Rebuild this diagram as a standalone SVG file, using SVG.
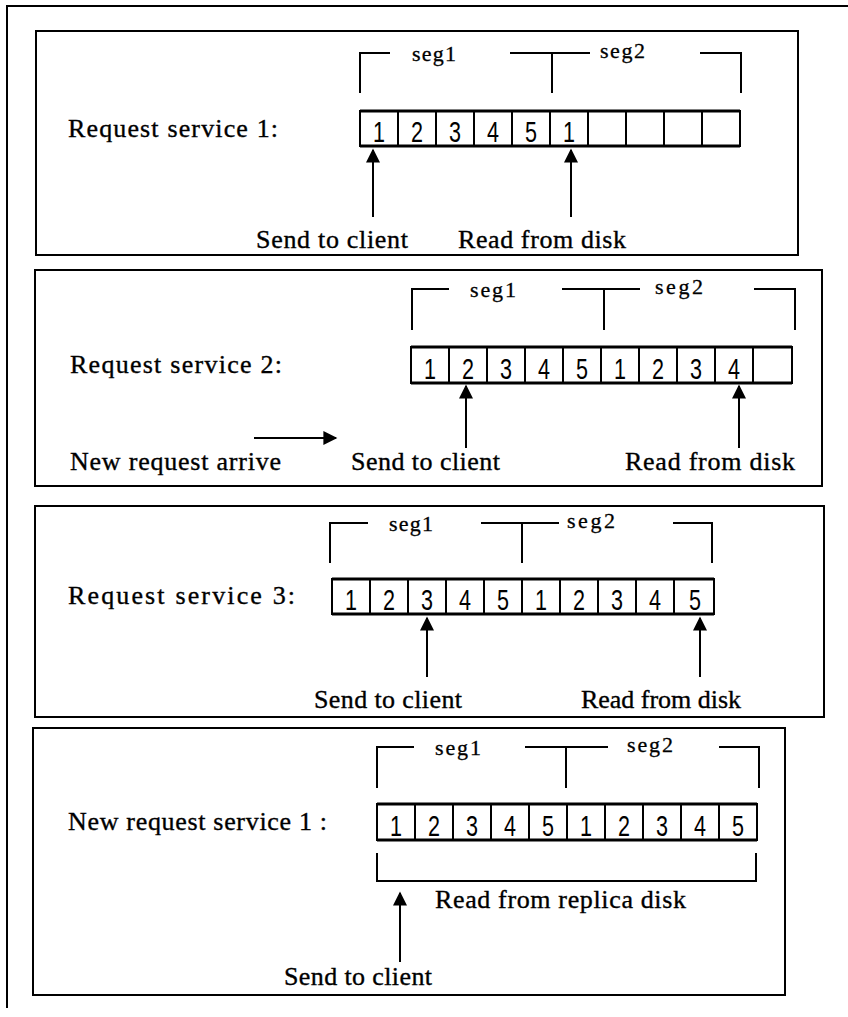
<svg xmlns="http://www.w3.org/2000/svg" width="848" height="1017" viewBox="0 0 848 1017">
<defs>
<style>
.frame{fill:none;stroke:#000;stroke-width:2}
.br{fill:none;stroke:#000;stroke-width:2}
.cell{fill:#fff;stroke:#000;stroke-width:2}
.row{fill:none;stroke:#000;stroke-width:3}
.lbl{font-family:"Liberation Serif","Times New Roman",serif;font-size:26px;fill:#000;stroke:#000;stroke-width:0.35}
.seg{font-family:"Liberation Serif","Times New Roman",serif;font-size:22px;fill:#000;stroke:#000;stroke-width:0.3}
.num{font-family:"Liberation Sans",Arial,sans-serif;font-size:29px;fill:#000;text-anchor:middle}
.ln{stroke:#000;stroke-width:2;fill:none}
</style>
<marker id="ah" viewBox="0 0 10 10" refX="9" refY="5" markerWidth="7.5" markerHeight="7" markerUnits="strokeWidth" orient="auto">
<path d="M0,0 L10,5 L0,10 z" fill="#000"/>
</marker>
</defs>
<rect width="848" height="1017" fill="#fff"/>
<g id="outer-frame">
<path class="frame" d="M7,1008 L7,6 L848,6"/>
</g>

<g id="panel1">
<rect class="frame" x="36" y="31" width="762" height="224"/>
<text class="lbl" x="68" y="137" textLength="210" lengthAdjust="spacing">Request service 1:</text>
<path class="br" d="M360,93 V53 H390 M510,53 H590 M552,53 V93 M700,53 H741 V93"/>
<text class="seg" x="412" y="61" textLength="44" lengthAdjust="spacing">seg1</text>
<text class="seg" x="600" y="58" textLength="45" lengthAdjust="spacing">seg2</text>
<g>
<rect class="cell" x="360" y="111" width="38" height="35"/><rect class="cell" x="398" y="111" width="38" height="35"/><rect class="cell" x="436" y="111" width="38" height="35"/><rect class="cell" x="474" y="111" width="38" height="35"/><rect class="cell" x="512" y="111" width="38" height="35"/><rect class="cell" x="550" y="111" width="38" height="35"/><rect class="cell" x="588" y="111" width="38" height="35"/><rect class="cell" x="626" y="111" width="38" height="35"/><rect class="cell" x="664" y="111" width="38" height="35"/><rect class="cell" x="702" y="111" width="38" height="35"/>
<path class="row" d="M360,111 H740 M360,146 H740"/>
<text class="num" x="379" y="142" textLength="12" lengthAdjust="spacingAndGlyphs">1</text>
<text class="num" x="417" y="142" textLength="12" lengthAdjust="spacingAndGlyphs">2</text>
<text class="num" x="455" y="142" textLength="12" lengthAdjust="spacingAndGlyphs">3</text>
<text class="num" x="493" y="142" textLength="12" lengthAdjust="spacingAndGlyphs">4</text>
<text class="num" x="531" y="142" textLength="12" lengthAdjust="spacingAndGlyphs">5</text>
<text class="num" x="569" y="142" textLength="12" lengthAdjust="spacingAndGlyphs">1</text>
</g>
<text class="lbl" x="256" y="248" textLength="152" lengthAdjust="spacing">Send to client</text>
<text class="lbl" x="458" y="248" textLength="168" lengthAdjust="spacing">Read from disk</text>
</g>

<g id="panel2">
<rect class="frame" x="35" y="270" width="787" height="216"/>
<text class="lbl" x="70" y="373" textLength="212" lengthAdjust="spacing">Request service 2:</text>
<path class="br" d="M412,330 V289 H449 M562,289 H640 M604,289 V330 M754,289 H795 V330"/>
<text class="seg" x="470" y="297" textLength="46" lengthAdjust="spacing">seg1</text>
<text class="seg" x="655" y="294" textLength="48" lengthAdjust="spacing">seg2</text>
<g>
<rect class="cell" x="411" y="347" width="38" height="36"/><rect class="cell" x="449" y="347" width="38" height="36"/><rect class="cell" x="487" y="347" width="38" height="36"/><rect class="cell" x="525" y="347" width="38" height="36"/><rect class="cell" x="563" y="347" width="38" height="36"/><rect class="cell" x="601" y="347" width="38" height="36"/><rect class="cell" x="639" y="347" width="38" height="36"/><rect class="cell" x="677" y="347" width="38" height="36"/><rect class="cell" x="715" y="347" width="38" height="36"/><rect class="cell" x="753" y="347" width="39" height="36"/>
<path class="row" d="M411,347 H792 M411,383 H792"/>
<text class="num" x="430" y="379" textLength="12" lengthAdjust="spacingAndGlyphs">1</text>
<text class="num" x="468" y="379" textLength="12" lengthAdjust="spacingAndGlyphs">2</text>
<text class="num" x="506" y="379" textLength="12" lengthAdjust="spacingAndGlyphs">3</text>
<text class="num" x="544" y="379" textLength="12" lengthAdjust="spacingAndGlyphs">4</text>
<text class="num" x="582" y="379" textLength="12" lengthAdjust="spacingAndGlyphs">5</text>
<text class="num" x="620" y="379" textLength="12" lengthAdjust="spacingAndGlyphs">1</text>
<text class="num" x="658" y="379" textLength="12" lengthAdjust="spacingAndGlyphs">2</text>
<text class="num" x="696" y="379" textLength="12" lengthAdjust="spacingAndGlyphs">3</text>
<text class="num" x="734" y="379" textLength="12" lengthAdjust="spacingAndGlyphs">4</text>
</g>
<text class="lbl" x="70" y="470" textLength="211" lengthAdjust="spacing">New request arrive</text>
<text class="lbl" x="351" y="470" textLength="149" lengthAdjust="spacing">Send to client</text>
<text class="lbl" x="625" y="470" textLength="170" lengthAdjust="spacing">Read from disk</text>
</g>

<g id="panel3">
<rect class="frame" x="35" y="506" width="789" height="211"/>
<text class="lbl" x="68" y="604" textLength="227" lengthAdjust="spacing">Request service 3:</text>
<path class="br" d="M330,563 V523 H368 M481,523 H559 M522,523 V563 M673,523 H712 V563"/>
<text class="seg" x="389" y="531" textLength="44" lengthAdjust="spacing">seg1</text>
<text class="seg" x="567" y="528" textLength="48" lengthAdjust="spacing">seg2</text>
<g>
<rect class="cell" x="332" y="579" width="38" height="35"/><rect class="cell" x="370" y="579" width="38" height="35"/><rect class="cell" x="408" y="579" width="38" height="35"/><rect class="cell" x="446" y="579" width="38" height="35"/><rect class="cell" x="484" y="579" width="38" height="35"/><rect class="cell" x="522" y="579" width="38" height="35"/><rect class="cell" x="560" y="579" width="38" height="35"/><rect class="cell" x="598" y="579" width="38" height="35"/><rect class="cell" x="636" y="579" width="38" height="35"/><rect class="cell" x="674" y="579" width="40" height="35"/>
<path class="row" d="M332,579 H714 M332,614 H714"/>
<text class="num" x="351" y="610" textLength="12" lengthAdjust="spacingAndGlyphs">1</text>
<text class="num" x="389" y="610" textLength="12" lengthAdjust="spacingAndGlyphs">2</text>
<text class="num" x="427" y="610" textLength="12" lengthAdjust="spacingAndGlyphs">3</text>
<text class="num" x="465" y="610" textLength="12" lengthAdjust="spacingAndGlyphs">4</text>
<text class="num" x="503" y="610" textLength="12" lengthAdjust="spacingAndGlyphs">5</text>
<text class="num" x="541" y="610" textLength="12" lengthAdjust="spacingAndGlyphs">1</text>
<text class="num" x="579" y="610" textLength="12" lengthAdjust="spacingAndGlyphs">2</text>
<text class="num" x="617" y="610" textLength="12" lengthAdjust="spacingAndGlyphs">3</text>
<text class="num" x="655" y="610" textLength="12" lengthAdjust="spacingAndGlyphs">4</text>
<text class="num" x="695" y="610" textLength="12" lengthAdjust="spacingAndGlyphs">5</text>
</g>
<text class="lbl" x="314" y="708" textLength="148" lengthAdjust="spacing">Send to client</text>
<text class="lbl" x="581" y="708" textLength="160" lengthAdjust="spacing">Read from disk</text>
</g>

<g id="panel4">
<rect class="frame" x="33" y="728" width="752" height="267"/>
<text class="lbl" x="68" y="830" textLength="259" lengthAdjust="spacing">New request service 1 :</text>
<path class="br" d="M377,788 V747 H414 M525,747 H608 M566,747 V788 M719,747 H759 V788"/>
<text class="seg" x="435" y="755" textLength="46" lengthAdjust="spacing">seg1</text>
<text class="seg" x="627" y="752" textLength="46" lengthAdjust="spacing">seg2</text>
<g>
<rect class="cell" x="377" y="804" width="38" height="36"/><rect class="cell" x="415" y="804" width="38" height="36"/><rect class="cell" x="453" y="804" width="38" height="36"/><rect class="cell" x="491" y="804" width="38" height="36"/><rect class="cell" x="529" y="804" width="38" height="36"/><rect class="cell" x="567" y="804" width="38" height="36"/><rect class="cell" x="605" y="804" width="38" height="36"/><rect class="cell" x="643" y="804" width="38" height="36"/><rect class="cell" x="681" y="804" width="38" height="36"/><rect class="cell" x="719" y="804" width="38" height="36"/>
<path class="row" d="M377,804 H757 M377,840 H757"/>
<text class="num" x="396" y="836" textLength="12" lengthAdjust="spacingAndGlyphs">1</text>
<text class="num" x="434" y="836" textLength="12" lengthAdjust="spacingAndGlyphs">2</text>
<text class="num" x="472" y="836" textLength="12" lengthAdjust="spacingAndGlyphs">3</text>
<text class="num" x="510" y="836" textLength="12" lengthAdjust="spacingAndGlyphs">4</text>
<text class="num" x="548" y="836" textLength="12" lengthAdjust="spacingAndGlyphs">5</text>
<text class="num" x="586" y="836" textLength="12" lengthAdjust="spacingAndGlyphs">1</text>
<text class="num" x="624" y="836" textLength="12" lengthAdjust="spacingAndGlyphs">2</text>
<text class="num" x="662" y="836" textLength="12" lengthAdjust="spacingAndGlyphs">3</text>
<text class="num" x="700" y="836" textLength="12" lengthAdjust="spacingAndGlyphs">4</text>
<text class="num" x="738" y="836" textLength="12" lengthAdjust="spacingAndGlyphs">5</text>
</g>
<path class="br" d="M377,853 V881 H756 V853"/>
<text class="lbl" x="435" y="908" textLength="251" lengthAdjust="spacing">Read from replica disk</text>
<text class="lbl" x="284" y="985" textLength="148" lengthAdjust="spacing">Send to client</text>
</g>

<g id="connectors">
<path class="ln" d="M373,217 V150" marker-end="url(#ah)"/>
<path class="ln" d="M571,217 V150" marker-end="url(#ah)"/>
<path class="ln" d="M466,448 V386" marker-end="url(#ah)"/>
<path class="ln" d="M739,448 V386" marker-end="url(#ah)"/>
<path class="ln" d="M254,438 H336" marker-end="url(#ah)"/>
<path class="ln" d="M427,677 V618" marker-end="url(#ah)"/>
<path class="ln" d="M700,677 V618" marker-end="url(#ah)"/>
<path class="ln" d="M400,962 V893" marker-end="url(#ah)"/>
</g>
</svg>
